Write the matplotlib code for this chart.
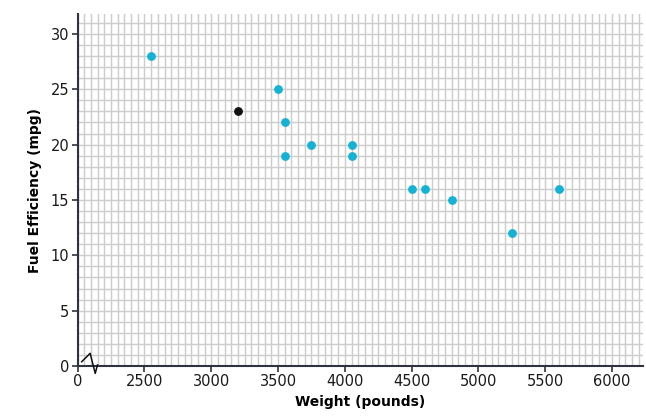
"""Scatter plot of car weight against fuel efficiency on a fine grid."""

import matplotlib
matplotlib.use("Agg")
import matplotlib.pyplot as plt
from matplotlib.ticker import FixedLocator, MultipleLocator

# Data
weight = [2550, 3500, 3550, 3550, 3750, 4050, 4050, 4500, 4600, 4800, 5250, 5600]
mpg = [28, 25, 22, 19, 20, 20, 19, 16, 16, 15, 12, 16]
highlight_weight = [3200]
highlight_mpg = [23]

x_ticks = [2000, 2500, 3000, 3500, 4000, 4500, 5000, 5500, 6000]
x_tick_labels = ["0", "2500", "3000", "3500", "4000", "4500", "5000", "5500", "6000"]
y_ticks = [0, 5, 10, 15, 20, 25, 30]

CYAN = "#14b2d4"
GRID = "#cdcdcd"
AXIS = "#2f3340"

fig = plt.figure(figsize=(6.46, 4.16), dpi=100)
ax = fig.add_axes([0.1203, 0.1202, 0.8746, 0.8461])

ax.set_xlim(2000, 6230)
ax.set_ylim(0, 31.8)

# Fine graph-paper grid
ax.xaxis.set_major_locator(FixedLocator(x_ticks))
ax.set_xticklabels(x_tick_labels)
ax.yaxis.set_major_locator(FixedLocator(y_ticks))
ax.xaxis.set_minor_locator(MultipleLocator(50))
ax.yaxis.set_minor_locator(MultipleLocator(1))
ax.grid(True, which="both", color=GRID, linewidth=1.05)
ax.tick_params(which="minor", length=0)
ax.tick_params(which="major", length=4, width=1.2, color=AXIS,
               labelsize=10.5, labelcolor="#1a1a1a", pad=2)
ax.set_axisbelow(True)

for side in ["top", "right"]:
    ax.spines[side].set_visible(False)
for side in ["left", "bottom"]:
    ax.spines[side].set_color(AXIS)
    ax.spines[side].set_linewidth(1.5)

ax.scatter(weight, mpg, s=40, color=CYAN, zorder=3, linewidths=0)
ax.scatter(highlight_weight, highlight_mpg, s=40, color="#111111", zorder=3,
           linewidths=0)

# Axis break mark near the origin
ax.plot([0.007, 0.022, 0.031, 0.035], [0.012, 0.036, -0.021, 0.003],
        transform=ax.transAxes, color="#111111", linewidth=1.1,
        clip_on=False, zorder=4)

ax.set_xlabel("Weight (pounds)", fontsize=10, fontweight="bold", labelpad=4)
ax.set_ylabel("Fuel Efficiency (mpg)", fontsize=10, fontweight="bold",
              labelpad=6)

fig.savefig("out.png", dpi=100, facecolor="white")
